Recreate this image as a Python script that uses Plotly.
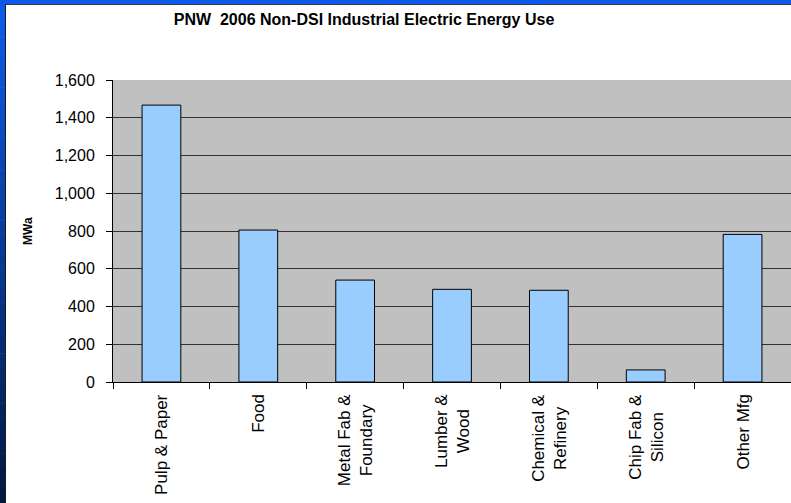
import plotly.graph_objects as go

categories = ["Pulp & Paper", "Food", "Metal Fab &<br>Foundary", "Lumber &<br>Wood",
              "Chemical &<br>Refinery", "Chip Fab &<br>Silicon", "Other Mfg"]
values = [1467, 805, 540, 491, 486, 64, 782]
y_ticks = [0, 200, 400, 600, 800, 1000, 1200, 1400, 1600]
y_tick_labels = ["0", "200", "400", "600", "800", "1,000", "1,200", "1,400", "1,600"]
title_text = "PNW  2006 Non-DSI Industrial Electric Energy Use"
y_title = "MWa"

W, H = 791, 503
L, R, T, B = 113, 0, 80, 121
pw, ph = W - L - R, H - T - B

def px(x):
    return (x - L) / pw

def py(y):
    return (H - B - y) / ph

FONT = "Liberation Sans, Arial, sans-serif"

fig = go.Figure(go.Bar(
    x=categories, y=values,
    marker=dict(color="#99ccff", line=dict(color="#000000", width=1)),
    hoverinfo="x+y",
))

shapes = []
# top blue strip
shapes.append(dict(type="rect", xref="paper", yref="paper",
                   x0=px(0), x1=px(W), y0=py(0), y1=py(4),
                   fillcolor="#0a58ec", line=dict(width=0), layer="above"))
# left gradient strip
n = 30
top_c = (12, 92, 236)
bot_c = (2, 24, 66)
for i in range(n):
    t = i / (n - 1)
    c = tuple(int(round(top_c[k] + (bot_c[k] - top_c[k]) * t)) for k in range(3))
    y0 = 4 + (H - 4) * i / n
    y1 = 4 + (H - 4) * (i + 1) / n
    shapes.append(dict(type="rect", xref="paper", yref="paper",
                       x0=px(0), x1=px(5), y0=py(y0), y1=py(y1 + 0.5),
                       fillcolor="rgb(%d,%d,%d)" % c, line=dict(width=0), layer="above"))
# dark frame lines of the white panel
shapes.append(dict(type="line", xref="paper", yref="paper",
                   x0=px(5), x1=px(W), y0=py(4.5), y1=py(4.5),
                   line=dict(color="#3a3a3a", width=1), layer="above"))
shapes.append(dict(type="line", xref="paper", yref="paper",
                   x0=px(5.5), x1=px(5.5), y0=py(4), y1=py(H),
                   line=dict(color="#1a1a1a", width=1), layer="above"))

annotations = []
for cat in categories:
    annotations.append(dict(
        x=cat, xref="x", y=0, yref="paper", yanchor="top", xanchor="center",
        yshift=-10, text=cat, textangle=-90, align="center", showarrow=False,
        font=dict(family=FONT, size=17, color="#000000"),
    ))
annotations.append(dict(
    x=px(28), xref="paper", y=py(231), yref="paper", xanchor="center", yanchor="middle",
    text="<b>%s</b>" % y_title, textangle=-90, showarrow=False,
    font=dict(family=FONT, size=12, color="#000000"),
))

fig.update_layout(
    width=W, height=H,
    margin=dict(l=L, r=R, t=T, b=B, pad=0),
    paper_bgcolor="#ffffff",
    plot_bgcolor="#c0c0c0",
    bargap=0.6,
    showlegend=False,
    title=dict(text="<b>%s</b>" % title_text, x=px(364), xref="paper", xanchor="center",
               y=1 - 19 / H, yref="container", yanchor="middle",
               font=dict(family=FONT, size=16, color="#000000")),
    xaxis=dict(showticklabels=False, ticks="outside", ticklen=6, tickcolor="#000000",
               tickson="boundaries", showline=True, linecolor="#000000", linewidth=1,
               showgrid=False, zeroline=False, fixedrange=True),
    yaxis=dict(range=[0, 1600], tickvals=y_ticks, ticktext=y_tick_labels,
               ticks="outside", ticklen=6, tickcolor="#000000",
               tickfont=dict(family=FONT, size=16, color="#000000"),
               ticklabelstandoff=8,
               showline=True, linecolor="#000000", linewidth=1,
               showgrid=True, gridcolor="#333333", gridwidth=1,
               zeroline=False, fixedrange=True),
    shapes=shapes,
    annotations=annotations,
)

fig.write_html(
    "out.html",
    config={"displayModeBar": False},
    post_script="document.body.style.margin='0';document.body.style.overflow='hidden';",
)
